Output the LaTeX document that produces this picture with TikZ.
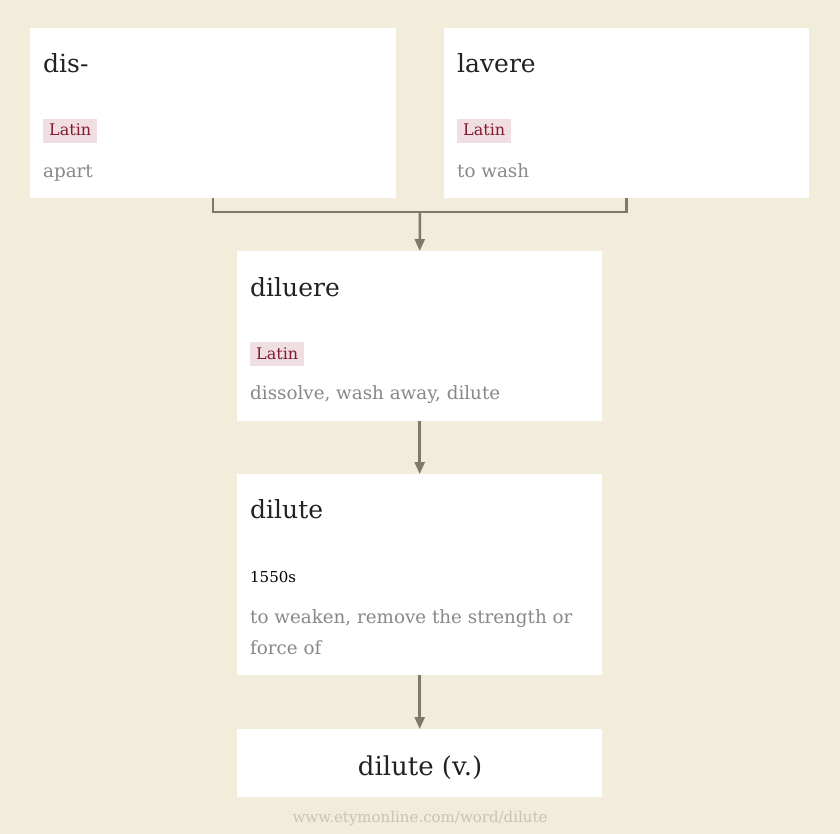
\documentclass[tikz,border=0pt]{standalone}
\usepackage{fontspec}
\setmainfont{DejaVu Serif}
\usetikzlibrary{arrows.meta}
\definecolor{bg}{HTML}{F2ECDB}
\definecolor{conncol}{HTML}{7F7A68}
\definecolor{tagfill}{HTML}{F0DFE2}
\definecolor{tagtext}{HTML}{85172F}
\definecolor{glosscol}{HTML}{888888}
\definecolor{headcol}{HTML}{222222}
\definecolor{footcol}{HTML}{C8C3B5}
\tikzset{
  card/.style={fill=white, draw=none, inner sep=0pt, anchor=north west},
  headword/.style={anchor=base west, inner sep=0pt, text=headcol, font=\fontsize{25}{30}\selectfont},
  langtag/.style={anchor=base west, fill=tagfill, text=tagtext, inner xsep=6pt, inner ysep=0pt, text height=17pt, text depth=7pt, font=\fontsize{16}{18}\selectfont},
  gloss/.style={anchor=base west, inner sep=0pt, text=glosscol, font=\fontsize{18.3}{31}\selectfont},
  datetxt/.style={anchor=base west, inner sep=0pt, text=black, font=\fontsize{15}{17}\selectfont},
  conn/.style={draw=conncol, line width=2.5pt},
  arr/.style={conn, -{Triangle[length=12pt, width=10pt]}},
}
\begin{document}
\begin{tikzpicture}[x=1pt, y=-1pt]
\fill[bg] (0,0) rectangle (840,834);
\useasboundingbox (0,0) rectangle (840,834);
% cards
\node[card, minimum width=366pt, minimum height=170pt] (dis) at (30,28) {};
\node[card, minimum width=365pt, minimum height=170pt] (lav) at (444,28) {};
\node[card, minimum width=365pt, minimum height=170pt] (dilu) at (237,251) {};
\node[card, minimum width=365pt, minimum height=201pt] (dil) at (237,474) {};
\node[card, minimum width=365pt, minimum height=68pt] (fin) at (237,729) {};
% dis-
\node[headword] (disw) at (43,73) {dis-};
\node[langtag] (dist) at (43,136) {Latin};
\node[gloss] (disg) at (43,178) {apart};
% lavere
\node[headword] (lavw) at (457,73) {lavere};
\node[langtag] (lavt) at (457,136) {Latin};
\node[gloss] (lavg) at (457,178) {to wash};
% diluere
\node[headword] (diluw) at (250,296) {diluere};
\node[langtag] (dilut) at (250,359) {Latin};
\node[gloss] (dilug) at (250,399) {dissolve, wash away, dilute};
% dilute
\node[headword] (dilw) at (250,518) {dilute};
\node[datetxt] (dild) at (250,582) {1550s};
\node[gloss] (dilg) at (250,623) {\parbox[t]{345pt}{\raggedright to weaken, remove the strength or\\force of}};
% final
\node[headword, anchor=base, font=\fontsize{26}{30}\selectfont] (finw) at (420,775) {dilute (v.)};
% footer
\node[anchor=base, inner sep=0pt, text=footcol, font=\fontsize{15}{17}\selectfont] (foot) at (420,822) {www.etymonline.com/word/dilute};
% connectors
\coordinate (join) at (420,212);
\draw[conn] (dis.south) |- (join) -| (lav.south);
\draw[arr] (join) -- (dilu.north);
\draw[arr] (dilu.south) -- (dil.north);
\draw[arr] (dil.south) -- (fin.north);
\end{tikzpicture}
\end{document}
